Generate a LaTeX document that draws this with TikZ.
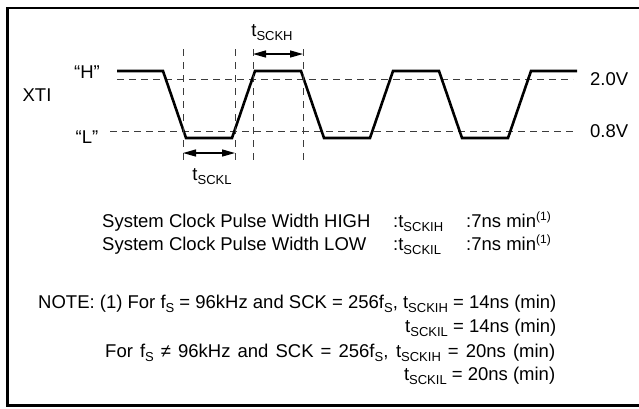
\documentclass[tikz,border=0pt]{standalone}
\usepackage{fontspec}
\setmainfont{Liberation Sans}
\usetikzlibrary{arrows.meta}
\definecolor{guide}{HTML}{3C3C3C}
\newcommand{\lo}[1]{\raisebox{-4pt}{\fontsize{13}{13}\selectfont #1}}
\newcommand{\hi}[1]{\raisebox{6.5pt}{\fontsize{12}{12}\selectfont #1}}

\begin{document}
\begin{tikzpicture}[x=1pt,y=-1pt,font=\fontsize{18.5}{22}\selectfont]
    \tikzstyle{wave}=[line width=2.6pt,line join=miter]
    \tikzstyle{lvl}=[guide,line width=1pt,dash pattern=on 7pt off 5pt]
    \tikzstyle{vline}=[guide,line width=1pt,dash pattern=on 7pt off 6pt]
    \tikzstyle{span}=[line width=1.3pt,{Triangle[length=13pt,width=7pt]}-{Triangle[length=13pt,width=7pt]}]
    \tikzstyle{txt}=[inner sep=0pt,anchor=base west]
    \tikzstyle{rtxt}=[inner sep=0pt,anchor=base east]

    \useasboundingbox (0,0) rectangle (639,408);
    \draw[line width=2.5pt] (639,8) -- (7.5,8) -- (7.5,405.5) -- (639,405.5);

    % levels and signal
    \draw[lvl] (117,79) -- (573,79);
    \draw[lvl] (110,131) -- (573,131);
    \node[anchor=west,inner sep=0pt] (v20) at (590,79) {2.0V};
    \node[anchor=west,inner sep=0pt] (v08) at (590,131) {0.8V};
    \node (qh) at (87,72) {“H”};
    \node (ql) at (87,137) {“L”};
    \node (xti) at (37,95) {XTI};

    \draw[wave] (117,71) -- (163,71)
        \foreach \i in {0,1,2} { -- ++(23,67) -- ++(46,0) -- ++(23,-67) -- ++(46,0) };

    % timing marks
    \foreach \x/\n in {183/a,235/b,253/c,303/d} {
        \draw[vline] (\x,49) -- (\x,163);
        \coordinate (\n h) at (\x,54);
        \coordinate (\n l) at (\x,153);
    }
    \draw[span] (ch) -- (dh);
    \draw[span] (al) -- (bl);
    \node (tsckh) at (272,33) {t\lo{SCKH}};
    \node (tsckl) at (212,177) {t\lo{SCKL}};

    % specs
    \node[txt] (high) at (102,227) {System Clock Pulse Width HIGH};
    \node[txt] (low) at (102,250) {System Clock Pulse Width LOW};
    \node[txt] (hsym) at (393,227) {:t\lo{SCKIH}};
    \node[txt] (lsym) at (393,250) {:t\lo{SCKIL}};
    \node[txt] (hval) at (466,227) {:7ns min\hi{(1)}};
    \node[txt] (lval) at (466,250) {:7ns min\hi{(1)}};

    % note
    \node[txt] (n1) at (38,308) {NOTE: (1) For f\lo{S} = 96kHz and SCK = 256f\lo{S}, t\lo{SCKIH} = 14ns (min)};
    \node[rtxt] (n2) at (n1.base east |- 0,332) {t\lo{SCKIL} = 14ns (min)};
    \node[txt] (n3) at (105,357) {\makebox[450pt][s]{For f\lo{S} ≠ 96kHz and SCK = 256f\lo{S}, t\lo{SCKIH} = 20ns (min)}};
    \node[rtxt] (n4) at (n3.base east |- 0,380) {t\lo{SCKIL} = 20ns (min)};
\end{tikzpicture}
\end{document}
